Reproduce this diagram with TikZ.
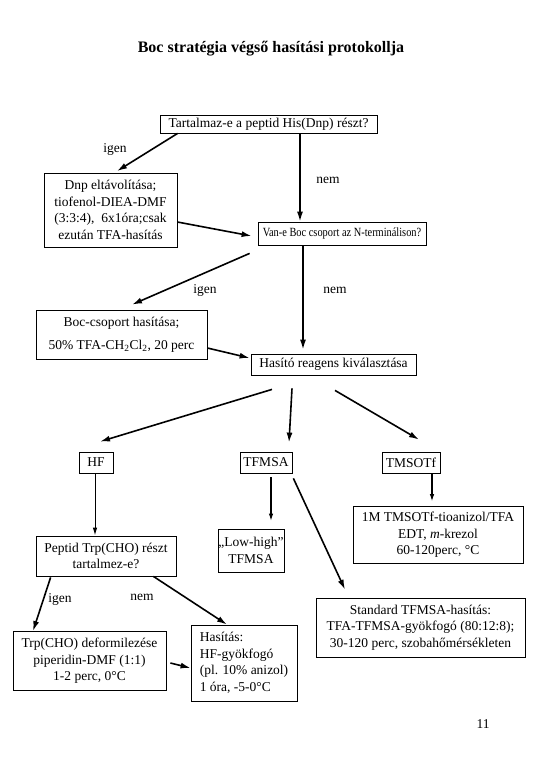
\documentclass[tikz,border=0pt]{standalone}
\usepackage{fontspec}
\usepackage{graphicx}
\setmainfont{Liberation Serif}
\usetikzlibrary{arrows.meta,calc}
\tikzset{
  txt/.style={font=\fontsize{13.5}{16.5}\selectfont, inner sep=0pt},
  box/.style={txt, draw, line width=0.8pt, align=center, minimum width=#1},
  box/.default=10pt,
  lbl/.style={txt},
  arr/.style={line width=1.6pt, -{Latex[length=10pt,width=6pt]}},
  sarr/.style={line width=1.6pt, -{Latex[length=8pt,width=4.5pt]}},
  tarr/.style={line width=1pt, -{Latex[length=8pt,width=4.5pt]}},
}
\begin{document}
\begin{tikzpicture}[x=1pt,y=-1pt]
\useasboundingbox[fill=white] (0,0) rectangle (540,780);
% title
\node[txt, font=\fontsize{16}{18}\selectfont\bfseries] (title) at (271,49) {Boc stratégia végső hasítási protokollja};
% boxes
\node[box=217pt, minimum height=18pt] (b1) at (268.5,124) {Tartalmaz-e a peptid His(Dnp) részt?};
\node[box=133pt, minimum height=74pt] (b2) at (110.5,210) {Dnp eltávolítása;\\tiofenol-DIEA-DMF\\(3:3:4),\ \ 6x1óra;csak\\ezután TFA-hasítás};
\node[box=168pt, minimum height=23pt, font=\fontsize{12.5}{15}\selectfont] (b3) at (342,233.5) {\scalebox{0.83}[1]{Van-e Boc csoport az N-terminálison?}};
\node[box=171pt, minimum height=49pt] (b4) at (121.5,334.5) {Boc-csoport hasítása;\\[7pt]50\% TFA-CH\textsubscript{2}Cl\textsubscript{2}, 20 perc};
\node[box=165pt, minimum height=21pt] (b5) at (333.5,364.5) {Hasító reagens kiválasztása};
\node[box=34pt, minimum height=21pt] (hf) at (96,462.5) {HF};
\node[box=52pt, minimum height=21pt] (tf) at (266,462.5) {TFMSA};
\node[box=58pt, minimum height=21pt] (tm) at (411,462.5) {TMSOTf};
\node[box=170pt, minimum height=57pt] (tmbox) at (438,535) {1M TMSOTf-tioanizol/TFA\\EDT, \textit{m}-krezol\\60-120perc, °C};
\node[box=66pt, minimum height=43pt] (low) at (251,550.5) {„Low-high”\\TFMSA};
\node[box=140pt, minimum height=40pt] (pep) at (106,556) {Peptid Trp(CHO) részt\\tartalmez-e?};
\node[box=153pt, minimum height=59pt] (trp) at (89.5,661) {Trp(CHO) deformilezése\\piperidin-DMF (1:1)\\1-2 perc, 0°C};
\node[box=106pt, minimum height=76pt, align=left] (has) at (244,663) {Hasítás:\\HF-gyökfogó\\(pl. 10\% anizol)\\1 óra, -5-0°C};
\node[box=209pt, minimum height=59pt] (std) at (420.5,627.5) {Standard TFMSA-hasítás:\\TFA-TFMSA-gyökfogó (80:12:8);\\30-120 perc, szobahőmérsékleten};
\node[txt] (page) at (483,724) {11};
% labels
\node[lbl] (igen1) at (115,149) {igen};
\node[lbl] (nem1) at (328,180) {nem};
\node[lbl] (igen2) at (205,290) {igen};
\node[lbl] (nem2) at (335,290) {nem};
\node[lbl] (igen3) at (60,599) {igen};
\node[lbl] (nem3) at (142,597) {nem};
% arrows
\draw[arr] ($(b1.south west)+(18,0)$) -- ($(b2.north)+(6.5,-1.5)$);
\draw[arr] ($(b1.south)+(31.5,0)$) -- ($(b3.north)+(-42,0)$);
\draw[arr] ($(b2.east)+(0,12)$) -- ($(b3.west)+(-6,2.5)$);
\draw[arr] ($(b3.south west)+(-8,8)$) -- ($(b4.north)+(10.5,-5)$);
\draw[arr] ($(b3.south)+(-39,0)$) -- ($(b5.north)+(-30.5,-4)$);
\draw[arr] ($(b4.east)+(0,13.5)$) -- ($(b5.west)+(-1,-6.5)$);
\draw[arr] ($(b5.south)+(-61.5,14)$) -- ($(hf.north)+(4,-10)$);
\draw[arr] ($(b5.south)+(-41.5,13)$) -- ($(tf.north)+(23,-9)$);
\draw[arr] ($(b5.south)+(1.5,15)$) -- ($(tm.north)+(8,-12)$);
\draw[tarr] ($(hf.south)+(-1,0)$) -- ($(pep.north)+(-11,0)$);
\draw[sarr] ($(tf.south)+(5,4)$) -- ($(low.north)+(20,-7)$);
\draw[arr] ($(tf.south east)+(1,5)$) -- ($(std.north)+(-75.5,-8)$);
\draw[sarr] ($(tm.south)+(21,0)$) -- ($(tmbox.north)+(-6,-4)$);
\draw[arr] ($(pep.south west)+(15,1)$) -- ($(trp.north)+(-56.5,0)$);
\draw[arr] ($(pep.south east)+(-23,0)$) -- ($(has.north)+(-17,0)$);
\draw[arr] ($(trp.east)+(4,2)$) -- ($(has.west)+(0,5)$);
\end{tikzpicture}
\end{document}
